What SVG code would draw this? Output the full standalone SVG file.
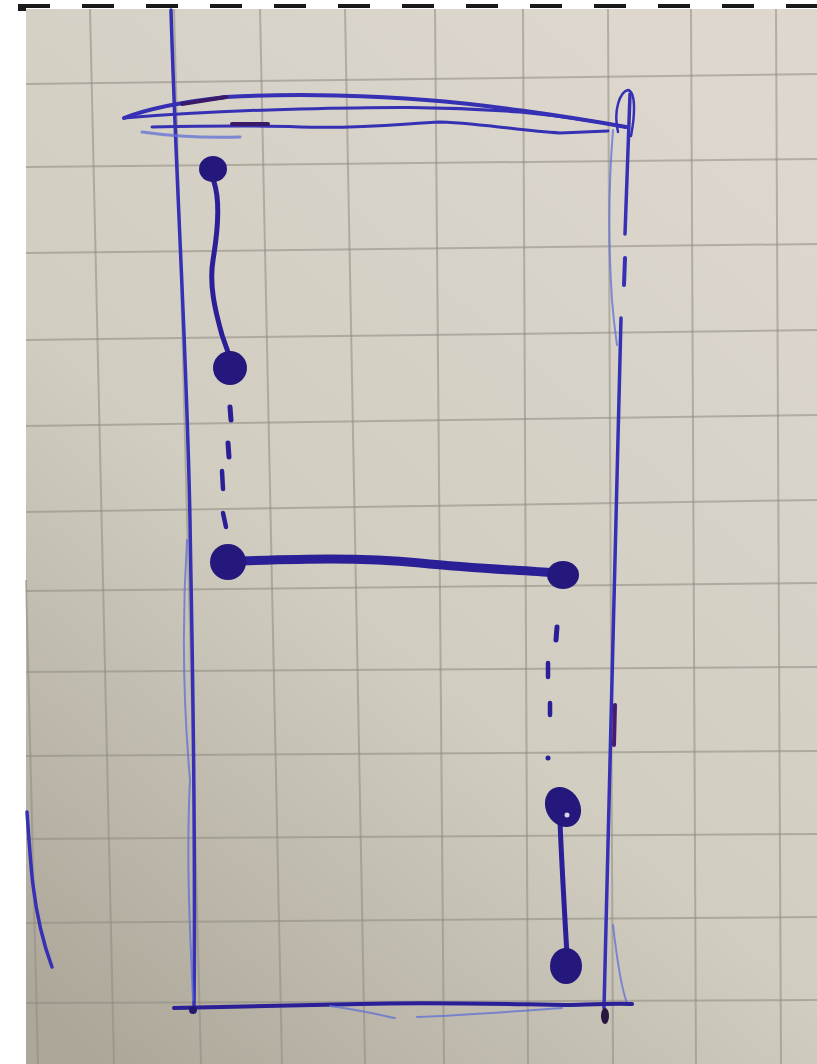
<svg xmlns="http://www.w3.org/2000/svg" width="817" height="1064" viewBox="0 0 817 1064">
<defs>
<linearGradient id="paper" x1="0.75" y1="0" x2="0.1" y2="1">
<stop offset="0" stop-color="#ddd7cd"/>
<stop offset="0.55" stop-color="#d1cdc1"/>
<stop offset="1" stop-color="#aca799"/>
</linearGradient>
<style>
.grid{stroke:#8f8a82;stroke-width:2;opacity:0.55;fill:none}
.pen{fill:none;stroke:#3630b4;stroke-linecap:round;stroke-linejoin:round}
.ink{fill:none;stroke:#2a1f96;stroke-linecap:round;stroke-linejoin:round}
.faint{fill:none;stroke:#5f6fd6;stroke-linecap:round;opacity:0.75}
.dot{fill:#25187c}
.dash{fill:#1a1a1a}
</style>
</defs>
<rect x="0" y="0" width="817" height="1064" fill="#ffffff"/>
<rect x="26" y="9" width="791" height="1055" fill="url(#paper)"/>
<g id="top-dashes">
<rect class="dash" x="18" y="4" width="32" height="4"/>
<rect class="dash" x="18" y="8" width="8" height="3"/>
<rect class="dash" x="82" y="4" width="32" height="4"/>
<rect class="dash" x="146" y="4" width="32" height="4"/>
<rect class="dash" x="210" y="4" width="32" height="4"/>
<rect class="dash" x="274" y="4" width="32" height="4"/>
<rect class="dash" x="338" y="4" width="32" height="4"/>
<rect class="dash" x="402" y="4" width="32" height="4"/>
<rect class="dash" x="466" y="4" width="32" height="4"/>
<rect class="dash" x="530" y="4" width="32" height="4"/>
<rect class="dash" x="594" y="4" width="32" height="4"/>
<rect class="dash" x="658" y="4" width="32" height="4"/>
<rect class="dash" x="722" y="4" width="32" height="4"/>
<rect class="dash" x="786" y="4" width="31" height="4"/>
</g>
<g id="grid">
<line class="grid" x1="26" y1="580" x2="38" y2="1064"/>
<line class="grid" x1="90" y1="9" x2="114" y2="1064"/>
<line class="grid" x1="174" y1="9" x2="201" y2="1064"/>
<line class="grid" x1="260" y1="9" x2="282" y2="1064"/>
<line class="grid" x1="345" y1="9" x2="365" y2="1064"/>
<line class="grid" x1="435" y1="9" x2="444" y2="1064"/>
<line class="grid" x1="523" y1="9" x2="528" y2="1064"/>
<line class="grid" x1="608" y1="9" x2="613" y2="1064"/>
<line class="grid" x1="691" y1="9" x2="696" y2="1064"/>
<line class="grid" x1="776" y1="9" x2="781" y2="1064"/>
<line class="grid" x1="26" y1="84" x2="817" y2="74"/>
<line class="grid" x1="26" y1="167" x2="817" y2="159"/>
<line class="grid" x1="26" y1="253" x2="817" y2="244"/>
<line class="grid" x1="26" y1="340" x2="817" y2="330"/>
<line class="grid" x1="26" y1="426" x2="817" y2="415"/>
<line class="grid" x1="26" y1="512" x2="817" y2="500"/>
<line class="grid" x1="26" y1="591" x2="817" y2="583"/>
<line class="grid" x1="26" y1="672" x2="817" y2="667"/>
<line class="grid" x1="26" y1="756" x2="817" y2="751"/>
<line class="grid" x1="26" y1="839" x2="817" y2="834"/>
<line class="grid" x1="26" y1="923" x2="817" y2="917"/>
<line class="grid" x1="26" y1="1003" x2="817" y2="1000"/>
</g>
<g id="frame">
<path class="pen" stroke-width="3.5" d="M171,10 C173,80 176,150 180,240 C184,330 188,420 190,520 C192,650 196,800 194,1010"/>
<path class="faint" stroke-width="2" d="M187,540 C182,620 183,700 190,780 C186,860 190,930 193,1000"/>
<path class="pen" stroke-width="4" d="M124,118 C150,108 180,102 226,97 C300,93 380,96 426,100 C480,104 560,115 626,127"/>
<path class="pen" stroke-width="3" d="M124,118 C160,115 220,111 300,109 C380,107 440,106 520,112 C570,117 600,122 626,127"/>
<path class="pen" stroke-width="3" d="M152,127 C200,126 250,125 300,127 C360,129 400,124 440,122 C490,124 520,131 560,133 L608,131"/>
<path class="faint" stroke-width="3" d="M142,132 C170,136 200,138 240,137"/>
<path fill="none" stroke="#3a1a66" stroke-width="4" stroke-linecap="round" d="M182,104 L226,97"/>
<path fill="none" stroke="#3a1a66" stroke-width="4" stroke-linecap="round" d="M232,124 L268,124"/>
<path class="pen" stroke-width="2.5" d="M618,132 C613,110 620,92 628,90 C636,92 635,115 631,136"/>
<path class="faint" stroke-width="2" d="M613,130 C609,180 608,240 612,300 C614,325 616,338 617,345"/>
<path class="pen" stroke-width="3.5" d="M630,94 C628,150 626,200 625,234"/>
<path class="pen" stroke-width="4" d="M625,258 L624,285"/>
<path class="pen" stroke-width="3.5" d="M621,318 C617,440 614,560 613,640 C611,760 606,880 604,1008"/>
<path fill="none" stroke="#4a1a72" stroke-width="4" stroke-linecap="round" d="M615,705 L614,745"/>
<path class="faint" stroke-width="2" d="M613,925 C617,960 622,990 627,1003"/>
<ellipse cx="605" cy="1016" rx="4" ry="8" fill="#2a1640"/>
<path class="ink" stroke-width="4" d="M174,1008 C240,1007 300,1005 360,1004 C430,1002 500,1004 567,1005 C600,1004 620,1003 632,1004"/>
<path class="faint" stroke-width="2" d="M330,1006 C360,1010 380,1015 395,1018"/>
<path class="faint" stroke-width="2" d="M417,1017 C470,1015 520,1011 562,1008"/>
<circle cx="193" cy="1010" r="4" fill="#231a70"/>
<path class="pen" stroke-width="3.5" d="M27,812 C29,840 31,870 33,885 C36,910 42,940 52,967"/>
</g>
<g id="connectors">
<path class="ink" stroke-width="5" d="M214,182 C220,200 218,230 213,260 C209,285 215,310 222,335 L229,355"/>
<path class="ink" stroke-width="5" d="M230,407 L231,420"/>
<path class="ink" stroke-width="5" d="M228,443 L229,457"/>
<path class="ink" stroke-width="4.5" d="M222,471 L223,489"/>
<path class="ink" stroke-width="4.5" d="M223,513 L226,527"/>
<path class="ink" stroke-width="9" d="M240,561 C300,559 360,557 420,563 C480,569 520,570 555,573"/>
<path class="ink" stroke-width="5" d="M557,627 L556,640"/>
<path class="ink" stroke-width="4.5" d="M548,663 L548,677"/>
<path class="ink" stroke-width="4.5" d="M550,703 L550,715"/>
<circle cx="548" cy="758" r="2.5" fill="#2a1f96"/>
<path class="ink" stroke-width="5" d="M560,822 C562,870 565,920 567,955"/>
</g>
<g id="node-1"><ellipse class="dot" cx="213" cy="169" rx="14" ry="13"/></g>
<g id="node-2"><circle class="dot" cx="230" cy="368" r="17"/></g>
<g id="node-3"><circle class="dot" cx="228" cy="562" r="18"/></g>
<g id="node-4"><ellipse class="dot" cx="563" cy="575" rx="16" ry="14"/></g>
<g id="node-5"><ellipse class="dot" cx="563" cy="807" rx="17" ry="21" transform="rotate(-30 563 807)"/><circle cx="567" cy="815" r="2.5" fill="#d8d4e8"/></g>
<g id="node-6"><ellipse class="dot" cx="566" cy="966" rx="16" ry="18"/></g>
</svg>
